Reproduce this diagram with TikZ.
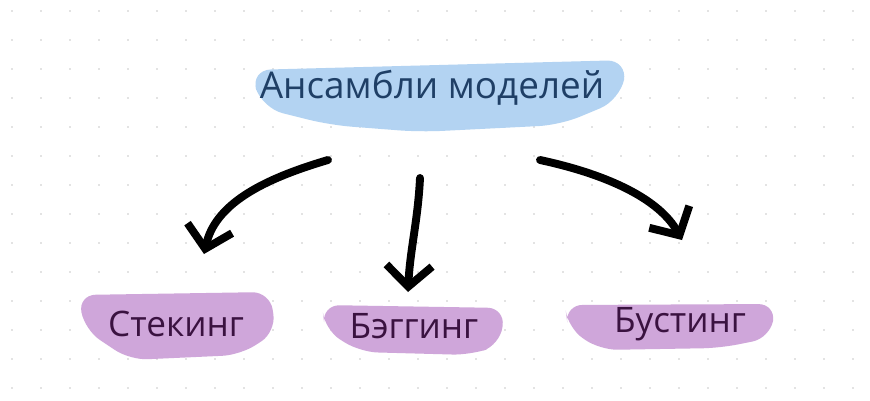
\documentclass[tikz,border=0pt]{standalone}
\usepackage{fontspec}
\setmainfont{Open Sans}
\usetikzlibrary{arrows.meta}
\definecolor{hlblue}{HTML}{B3D3F2}
\definecolor{hlpurple}{HTML}{CFA6DA}
\definecolor{titleblue}{HTML}{1F3F66}
\definecolor{subpurple}{HTML}{3A1240}
\tikzset{
  title/.style={font=\fontsize{21}{24}\selectfont, text=titleblue},
  method/.style={font=\fontsize{20}{24}\selectfont, text=subpurple},
  stroke/.style={draw=black, line width=4.5pt, line cap=round,
    -{Straight Barb[length=12pt,width=26pt,line width=4.5pt]}}
}
\begin{document}
\begin{tikzpicture}[x=0.02cm,y=0.02cm]
\useasboundingbox (0,0) rectangle (870,400);
\fill[white] (0,0) rectangle (870,400);
% dotted grid
\foreach \i in {0,...,30}
  \foreach \j in {0,...,13}
    \fill[black!22] (12+29*\i,12+29*\j) circle (0.8);
% highlights
\fill[hlblue, rounded corners=12pt] (250,330) -- (628,340) -- (620,300) -- (560,275)
  -- (420,268) -- (330,275) -- (262,292) -- cycle;
\fill[hlpurple, rounded corners=10pt] (78,105) -- (270,108) -- (276,68) -- (240,45)
  -- (130,40) -- (85,70) -- cycle;
\fill[hlpurple, rounded corners=10pt] (322,95) -- (505,92) -- (500,55) -- (470,45)
  -- (360,48) -- (325,70) -- cycle;
\fill[hlpurple, rounded corners=10pt] (565,95) -- (776,96) -- (770,62) -- (720,52)
  -- (600,50) -- (568,72) -- cycle;
% labels
\node[title] (ensemble) at (432,312) {Ансамбли моделей};
\node[method] (stacking) at (176,76) {Стекинг};
\node[method] (bagging) at (414,74) {Бэггинг};
\node[method] (boosting) at (680,76) {Бустинг};
% arrow ends
\coordinate (sA) at (328,240);
\coordinate (sB) at (420,222);
\coordinate (sC) at (540,240);
\coordinate (eA) at (204,146);
\coordinate (eB) at (408,108);
\coordinate (eC) at (682,160);
\draw[stroke] (sA) .. controls (260,220) and (215,195) .. (eA);
\draw[stroke] (sB) .. controls (418,180) and (410,150) .. (eB);
\draw[stroke] (sC) .. controls (610,225) and (660,200) .. (eC);
\end{tikzpicture}
\end{document}
